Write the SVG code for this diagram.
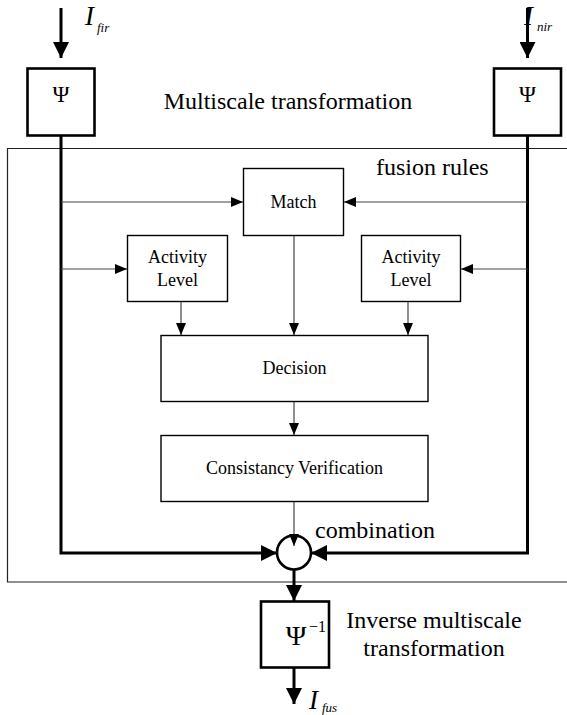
<svg xmlns="http://www.w3.org/2000/svg" width="567" height="715" viewBox="0 0 567 715">
<style>
text{font-family:"Liberation Serif","Times New Roman",serif;fill:#000}
.box{fill:#fff;stroke:#000;stroke-width:1.4}
.tbox{fill:#fff;stroke:#000;stroke-width:2.6}
.thin{fill:none;stroke:#444;stroke-width:1.2}
.thick{fill:none;stroke:#000;stroke-width:3}
.lbl{font-size:18px;text-anchor:middle}
.big{font-size:24px}
.psi{font-size:23px;text-anchor:middle}
</style>
<defs>
<marker id="a" markerWidth="12" markerHeight="10" refX="12" refY="5" orient="auto" markerUnits="userSpaceOnUse">
<path d="M0,0 L12,5 L0,10 Z" fill="#000"/>
</marker>
<marker id="A" markerWidth="16" markerHeight="16" refX="16" refY="8" orient="auto" markerUnits="userSpaceOnUse">
<path d="M0,0 L16,8 L0,16 Z" fill="#000"/>
</marker>
</defs>
<path d="M567,148.5 H7.5 V582 H567" fill="none" stroke="#222" stroke-width="1.2"/>
<g id="connectors">
<line class="thick" x1="61" y1="8" x2="61" y2="58" marker-end="url(#A)"/>
<line class="thick" x1="527.5" y1="8" x2="527.5" y2="58" marker-end="url(#A)"/>
<polyline class="thick" points="61,136 61,553 277,553" marker-end="url(#A)"/>
<polyline class="thick" points="527.5,136 527.5,553 311,553" marker-end="url(#A)"/>
<line class="thin" x1="61" y1="202" x2="243" y2="202" marker-end="url(#a)"/>
<line class="thin" x1="527.5" y1="202" x2="344" y2="202" marker-end="url(#a)"/>
<line class="thin" x1="61" y1="269" x2="127" y2="269" marker-end="url(#a)"/>
<line class="thin" x1="527.5" y1="269" x2="461" y2="269" marker-end="url(#a)"/>
<line class="thin" x1="181" y1="302" x2="181" y2="335" marker-end="url(#a)"/>
<line class="thin" x1="294" y1="236" x2="294" y2="335" marker-end="url(#a)"/>
<line class="thin" x1="408" y1="302" x2="408" y2="335" marker-end="url(#a)"/>
<line class="thin" x1="294" y1="401" x2="294" y2="435" marker-end="url(#a)"/>
<line class="thin" x1="294" y1="502" x2="294" y2="546" marker-end="url(#a)"/>
<line class="thick" x1="294" y1="569" x2="294" y2="601" marker-end="url(#A)"/>
<line class="thick" x1="294" y1="668" x2="294" y2="704" marker-end="url(#A)"/>
</g>
<g id="input-fir">
<text x="85" y="25" font-size="27" font-style="italic">I</text>
<text x="97" y="32" font-size="13" font-style="italic">fir</text>
</g>
<g id="input-nir">
<text x="524" y="25" font-size="27" font-style="italic">I</text>
<text x="537" y="31" font-size="13" font-style="italic">nir</text>
</g>
<g id="psi-left">
<rect class="tbox" x="27.5" y="68.5" width="67" height="67"/>
<text class="psi" x="61" y="102">Ψ</text>
</g>
<g id="psi-right">
<rect class="tbox" x="494" y="68.5" width="67" height="67"/>
<text class="psi" x="527.5" y="102">Ψ</text>
</g>
<text class="big" x="288" y="109" text-anchor="middle">Multiscale transformation</text>
<text class="big" x="376" y="175">fusion rules</text>
<g id="match">
<rect class="box" x="243.5" y="168.5" width="100" height="67"/>
<text class="lbl" x="293.5" y="208">Match</text>
</g>
<g id="activity-left">
<rect class="box" x="127.5" y="235.5" width="100" height="66"/>
<text class="lbl" x="177.5" y="263">Activity</text>
<text class="lbl" x="177.5" y="286">Level</text>
</g>
<g id="activity-right">
<rect class="box" x="361.5" y="235.5" width="99" height="66"/>
<text class="lbl" x="411" y="263">Activity</text>
<text class="lbl" x="411" y="286">Level</text>
</g>
<g id="decision">
<rect class="box" x="161" y="335.5" width="267" height="66"/>
<text class="lbl" x="294.5" y="374">Decision</text>
</g>
<g id="consistency">
<rect class="box" x="161" y="435.5" width="267" height="66"/>
<text class="lbl" x="294.5" y="474">Consistancy Verification</text>
</g>
<g id="combination">
<circle cx="294" cy="552.5" r="17" fill="none" stroke="#000" stroke-width="2.6"/>
<text class="big" x="315" y="538">combination</text>
</g>
<g id="psi-inverse">
<rect class="tbox" x="261" y="601.5" width="68" height="66"/>
<text x="296" y="645" font-size="28" text-anchor="middle">Ψ</text>
<text x="309" y="632" font-size="16">−1</text>
</g>
<text class="big" x="434" y="628" text-anchor="middle">Inverse multiscale</text>
<text class="big" x="434" y="656" text-anchor="middle">transformation</text>
<g id="output-fus">
<text x="309" y="709" font-size="27" font-style="italic">I</text>
<text x="322" y="712" font-size="13" font-style="italic">fus</text>
</g>
</svg>
